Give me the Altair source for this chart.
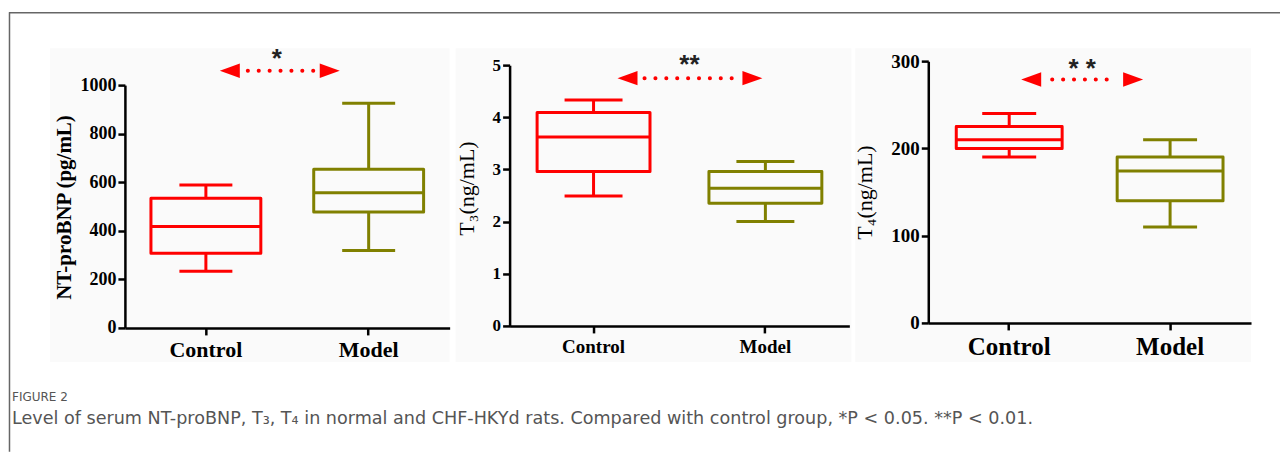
import altair as alt
import pandas as pd

groups = ["Control", "Model"]
box_colors = ["#ff0000", "#808000"]

# NT-proBNP (pg/mL)
bnp_low = [233, 319]
bnp_q1 = [308, 477]
bnp_med = [418, 557]
bnp_q3 = [534, 653]
bnp_high = [589, 925]
bnp_ticks = [0, 200, 400, 600, 800, 1000]

# T3 (ng/mL)
t3_low = [2.49, 2.00]
t3_q1 = [2.96, 2.35]
t3_med = [3.62, 2.64]
t3_q3 = [4.09, 2.96]
t3_high = [4.33, 3.15]
t3_ticks = [0, 1, 2, 3, 4, 5]

# T4 (ng/mL)
t4_low = [190, 110]
t4_q1 = [200, 140]
t4_med = [210, 174]
t4_q3 = [225, 190]
t4_high = [240, 210]
t4_ticks = [0, 100, 200, 300]

# significance marks
sig_labels = ["*", "**", "* *"]
sig_level = [1059, 4.75, 279]

caption_head = "FIGURE 2"
caption_text = ("Level of serum NT-proBNP, T\u2083, T\u2084 in normal and CHF-HKYd rats. "
                "Compared with control group, *P < 0.05. **P < 0.01.")

SERIF = "Liberation Serif"
TOP = 61  # top of the panel cells on the page
one = alt.Data(values=[{}])


def make_df(low, q1, med, q3, high):
    return pd.DataFrame({"group": groups, "low": low, "q1": q1, "med": med,
                         "q3": q3, "high": high})


def panel(df, ydom, yticks, title, ox, xlen, cellw, ybot, ytop, pin, pout, cap,
          tick_fs, xlab_fs, title_fs, title_bold, title_x, title_y,
          arrow, sig, sig_y, star_x, star_y, bgx, extra=()):
    h = ybot - TOP
    xscale = alt.Scale(domain=groups, range=[0, xlen], paddingInner=pin, paddingOuter=pout)
    yscale = alt.Scale(domain=ydom, range=[h, ytop - TOP], nice=False, zero=False)
    xaxis = alt.Axis(orient="bottom", title=None, labelAngle=0, zindex=1,
                     domainColor="black", domainWidth=2.5, tickColor="black",
                     tickWidth=2.5, tickSize=7, labelFont=SERIF, labelFontWeight="bold",
                     labelFontSize=xlab_fs, labelColor="black", labelPadding=5, grid=False)
    yaxis = alt.Axis(orient="left", values=yticks, format="d", zindex=1,
                     domainColor="black", domainWidth=2.5, tickColor="black",
                     tickWidth=2.5, tickSize=7, labelFont=SERIF, labelFontWeight="bold",
                     labelFontSize=tick_fs, labelColor="black", labelPadding=2,
                     grid=False, title=title, titleFont=SERIF,
                     titleFontWeight="bold" if title_bold else "normal",
                     titleFontSize=title_fs, titleColor="black", titleAngle=270,
                     titleX=title_x - ox, titleY=title_y - TOP, titleAlign="center",
                     titleBaseline="middle")
    stroke = alt.Stroke("group:N", scale=alt.Scale(domain=groups, range=box_colors),
                        legend=None)

    def X():
        return alt.X("group:N", scale=xscale, axis=xaxis, sort=groups)

    def Y(f):
        return alt.Y(f + ":Q", scale=yscale, axis=yaxis)

    bg = alt.Chart(one).mark_rect(color="#fafafa").encode(
        x=alt.value(bgx[0] - ox), x2=alt.value(bgx[1] - ox),
        y=alt.value(48 - TOP), y2=alt.value(362 - TOP))

    base = alt.Chart(df)
    box = base.mark_rect(fill="transparent", strokeWidth=3, strokeJoin="round").encode(
        x=X(), y=Y("q1"), y2="q3", stroke=stroke)
    med = base.mark_rect(fill="transparent", strokeWidth=3).encode(
        x=X(), y=Y("med"), y2="med", stroke=stroke)
    w_hi = base.mark_rule(strokeWidth=3).encode(x=X(), y=Y("q3"), y2="high", stroke=stroke)
    w_lo = base.mark_rule(strokeWidth=3).encode(x=X(), y=Y("low"), y2="q1", stroke=stroke)
    c_hi = base.mark_tick(size=cap, thickness=3, orient="horizontal", opacity=1).encode(
        x=X(), y=Y("high"), color=stroke)
    c_lo = base.mark_tick(size=cap, thickness=3, orient="horizontal", opacity=1).encode(
        x=X(), y=Y("low"), color=stroke)

    lt, rt, d0, d1 = arrow
    ydatum = alt.datum(sig_y, scale=yscale, axis=yaxis)
    dots = alt.Chart(one).mark_rule(color="#ff0000", strokeWidth=4, strokeCap="round",
                                    strokeDash=[0.1, 10.8]).encode(
        x=alt.value(d0 - ox), x2=alt.value(d1 - ox), y=ydatum)
    head_l = alt.Chart(one).mark_point(shape="M-1,0L1,-0.72L1,0.72Z", filled=True,
                                       color="#ff0000", opacity=1, size=400).encode(
        x=alt.value(lt + 10 - ox), y=ydatum)
    head_r = alt.Chart(one).mark_point(shape="M1,0L-1,-0.72L-1,0.72Z", filled=True,
                                       color="#ff0000", opacity=1, size=400).encode(
        x=alt.value(rt - 10 - ox), y=ydatum)
    star = alt.Chart(one).mark_text(text=sig, font="Liberation Sans", fontSize=26,
                                    fontWeight="bold", color="#222222",
                                    baseline="middle").encode(
        x=alt.value(star_x - ox), y=alt.value(star_y - TOP))
    return alt.layer(*extra, bg, box, med, w_hi, w_lo, c_hi, c_lo, dots, head_l, head_r,
                     star).properties(width=cellw, height=h)


# page decorations drawn in the first cell (origin at x=125, y=TOP)
OX1 = 125
page = alt.Chart(one).mark_rect(color="white").encode(
    x=alt.value(-OX1), x2=alt.value(1281 - OX1), y=alt.value(-TOP), y2=alt.value(452 - TOP))
frame_top = alt.Chart(one).mark_rule(color="#666666", strokeWidth=1.5).encode(
    x=alt.value(9 - OX1), x2=alt.value(1281 - OX1), y=alt.value(12.5 - TOP))
frame_left = alt.Chart(one).mark_rule(color="#666666", strokeWidth=1.5).encode(
    x=alt.value(9.5 - OX1), y=alt.value(12 - TOP), y2=alt.value(452 - TOP))
cap1 = alt.Chart(one).mark_text(text=caption_head, font="DejaVu Sans", fontSize=12,
                                color="#555555", align="left", baseline="middle").encode(
    x=alt.value(12 - OX1), y=alt.value(397 - TOP))
cap2 = alt.Chart(one).mark_text(text=caption_text, font="DejaVu Sans", fontSize=17.6,
                                color="#555555", align="left", baseline="middle").encode(
    x=alt.value(12 - OX1), y=alt.value(419 - TOP))

p1 = panel(make_df(bnp_low, bnp_q1, bnp_med, bnp_q3, bnp_high), [0, 1000], bnp_ticks,
           "NT-proBNP (pg/mL)", 125, 325, 385, 328, 85, 0.325, 0.16, 53,
           18, 22, 21, True, 65, 207,
           (220, 340, 248, 315), sig_labels[0], sig_level[0], 277, 59, (50, 450),
           extra=(page, frame_top, frame_left, cap1, cap2))
p2 = panel(make_df(t3_low, t3_q1, t3_med, t3_q3, t3_high), [0, 5], t3_ticks,
           "T\u2083(ng/mL)", 510, 340, 419, 326, 65, 0.343, 0.16, 58,
           17, 19, 22, False, 467, 188,
           (618, 763, 645, 738), sig_labels[1], sig_level[1], 690, 65, (456, 852))
p3 = panel(make_df(t4_low, t4_q1, t4_med, t4_q3, t4_high), [0, 300], t4_ticks,
           "T\u2084(ng/mL)", 929, 323, 323, 323, 61, 0.342, 0.174, 54,
           19, 25, 22, False, 865, 192,
           (1022, 1144, 1053, 1114), sig_labels[2], sig_level[2], 1083, 69, (856, 1252))

chart = alt.hconcat(p1, p2, p3, spacing=0, bounds="flush").properties(
    padding=0, background="white"
).configure_view(stroke=None)

chart.save("out.html", embed_options={"renderer": "svg", "actions": False})
